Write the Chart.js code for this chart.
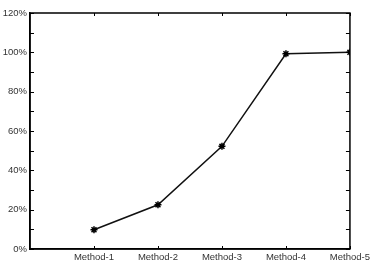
<!DOCTYPE html>
<html>
<head>
<meta charset="utf-8">
<script src="https://cdn.jsdelivr.net/npm/chart.js@4/dist/chart.umd.min.js"></script>
<style>
  html, body { margin: 0; padding: 0; background: #fff; }
  #wrap { width: 373px; height: 268px; }
</style>
</head>
<body>
<div id="wrap"><canvas id="c" width="373" height="268"></canvas></div>
<script>
const categories = ["Method-1", "Method-2", "Method-3", "Method-4", "Method-5"];
const values = [9.8, 22.5, 52.2, 99.3, 100.0];
const yTicks = [0, 20, 40, 60, 80, 100, 120];
const yMinorTicks = [10, 30, 50, 70, 90, 110];

const tickPlugin = {
  id: 'innerTicks',
  afterDraw(chart) {
    const ctx = chart.ctx;
    const a = chart.chartArea;
    const xs = chart.scales.x, ys = chart.scales.y;
    ctx.save();
    ctx.strokeStyle = '#000';
    ctx.lineWidth = 1;
    ctx.beginPath();
    yTicks.concat(yMinorTicks).forEach(v => {
      const py = Math.round(ys.getPixelForValue(v)) + 0.5;
      ctx.moveTo(a.left, py); ctx.lineTo(a.left + 4, py);
      ctx.moveTo(a.right, py); ctx.lineTo(a.right - 4, py);
    });
    categories.forEach((c, i) => {
      const px = Math.round(xs.getPixelForValue(i + 1)) + 0.5;
      ctx.moveTo(px, a.bottom); ctx.lineTo(px, a.bottom - 3);
      ctx.moveTo(px, a.top); ctx.lineTo(px, a.top + 3);
    });
    ctx.stroke();
    // frame
    ctx.lineWidth = 1.5;
    ctx.strokeRect(a.left, a.top, a.right - a.left, a.bottom - a.top);
    ctx.restore();
  }
};

new Chart(document.getElementById('c'), {
  type: 'line',
  data: {
    datasets: [{
      data: values.map((v, i) => ({ x: i + 1, y: v })),
      borderColor: '#111',
      borderWidth: 1.5,
      pointStyle: 'star',
      pointRadius: 3.5,
      pointBorderColor: '#000',
      pointBackgroundColor: '#000',
      pointBorderWidth: 1.5,
      tension: 0,
      fill: false
    }]
  },
  options: {
    responsive: false,
    animation: false,
    devicePixelRatio: 1,
    layout: { padding: { top: 13, right: 23, left: 0, bottom: 0 } },
    plugins: { legend: { display: false }, tooltip: { enabled: false } },
    scales: {
      x: {
        type: 'linear',
        min: 0, max: 5,
        afterFit(s) { s.height = 19; },
        afterBuildTicks(s) { s.ticks = [0, 1, 2, 3, 4, 5].map(v => ({ value: v })); },
        ticks: {
          stepSize: 1,
          autoSkip: false,
          maxRotation: 0,
          padding: 3,
          color: '#333',
          font: { family: 'Liberation Sans', size: 9.5 },
          callback: (v) => (v >= 1 && v <= categories.length) ? categories[v - 1] : ''
        },
        grid: { display: false, drawTicks: false },
        border: { display: true, color: '#000', width: 1.5 }
      },
      y: {
        min: 0, max: 120,
        afterFit(s) { s.width = 30; },
        afterBuildTicks(s) { s.ticks = yTicks.map(v => ({ value: v })); },
        ticks: {
          stepSize: 20,
          padding: 3,
          color: '#333',
          font: { family: 'Liberation Sans', size: 9.5 },
          callback: (v) => v + '%'
        },
        grid: { display: false, drawTicks: false },
        border: { display: true, color: '#000', width: 1.5 }
      }
    }
  },
  plugins: [tickPlugin]
});
</script>
</body>
</html>
